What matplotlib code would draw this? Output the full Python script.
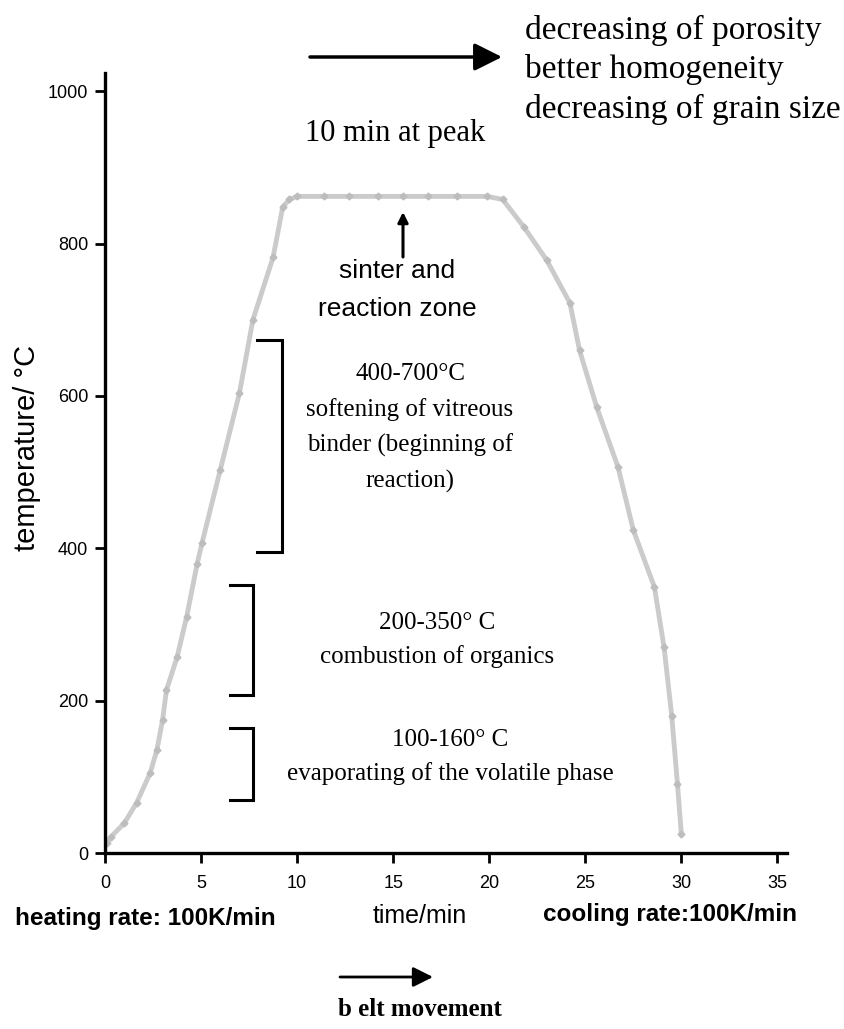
import matplotlib.pyplot as plt
from matplotlib.patches import FancyArrowPatch

# firing profile
time_min = [0.1, 0.3, 1.0, 1.65, 2.35, 2.7, 3.0, 3.2, 3.75, 4.25, 4.8, 5.05, 6.0,
            7.0, 7.7, 8.75, 9.25, 9.6, 10.0, 11.4, 12.7, 14.2, 15.5, 16.8, 18.3,
            19.9, 20.7, 21.8, 23.0, 24.2, 24.7, 25.6, 26.7, 27.5, 28.6, 29.1,
            29.5, 29.8, 30.0]
temp_c = [13, 21, 39, 66, 105, 135, 175, 214, 257, 310, 380, 407, 503,
          604, 700, 782, 848, 858, 862, 862, 862, 862, 862, 862, 862,
          862, 858, 822, 778, 722, 660, 585, 507, 424, 349, 270,
          180, 90, 25]

x_ticks = [0, 5, 10, 15, 20, 25, 30, 35]
y_ticks = [0, 200, 400, 600, 800, 1000]

# brackets: (x_left, x_right, T_bottom, T_top)
brackets = [(7.9, 9.2, 395, 673), (6.5, 7.7, 207, 352), (6.5, 7.7, 70, 164)]

W, H = 844, 1029
fig = plt.figure(figsize=(W / 100, H / 100), dpi=100)
ax = fig.add_axes([105 / W, 176 / H, 682 / W, 780 / H])

def px(x, y):
    return (x / W, 1 - y / H)

ax.plot(time_min, temp_c, color='#cbcbcb', lw=3.5, marker='D', ms=3.5,
        mfc='#bdbdbd', mec='#bdbdbd', solid_joinstyle='round')

ax.set_xlim(0, 35.5)
ax.set_ylim(0, 1024)
ax.set_xticks(x_ticks)
ax.set_yticks(y_ticks)
for s in ['top', 'right']:
    ax.spines[s].set_visible(False)
for s in ['left', 'bottom']:
    ax.spines[s].set_linewidth(2.4)
ax.tick_params(direction='out', length=7, width=2, labelsize=13)
ax.tick_params(axis='x', pad=9)
ax.tick_params(axis='y', pad=5)
for lab in ax.get_xticklabels() + ax.get_yticklabels():
    lab.set_family('Liberation Sans')

for x0, x1, b, t in brackets:
    ax.plot([x0, x1, x1, x0], [t, t, b, b], color='black', lw=2.2,
            solid_joinstyle='miter')

serif = 'Liberation Serif'
sans = 'Liberation Sans'

fig.text(*px(27, 448), 'temperature/ °C', rotation=90, ha='center', va='center',
         fontsize=21, family=sans)

fig.text(*px(15, 918), 'heating rate: 100K/min', ha='left', va='center',
         fontsize=17.5, fontweight='bold', family=sans)
fig.text(*px(420, 916), 'time/min', ha='center', va='center',
         fontsize=18, family=sans)
fig.text(*px(797, 915), 'cooling rate:100K/min', ha='right', va='center',
         fontsize=17.5, fontweight='bold', family=sans)
fig.text(*px(420, 1010), 'b elt movement', ha='center', va='center',
         fontsize=18, fontweight='bold', family=serif)

fig.text(*px(395, 133), '10 min at peak', ha='center', va='center',
         fontsize=22, family=serif)
fig.text(*px(525, 70), 'decreasing of porosity\nbetter homogeneity\ndecreasing of grain size',
         ha='left', va='center', fontsize=24, family=serif, linespacing=1.36)

fig.text(*px(397, 290), 'sinter and\nreaction zone', ha='center', va='center',
         fontsize=19, family=sans, linespacing=1.75)

fig.text(*px(410, 428), '400-700°C\nsoftening of vitreous\nbinder (beginning of\nreaction)',
         ha='center', va='center', fontsize=18, family=serif, linespacing=1.72)
fig.text(*px(437, 640), '200-350° C\ncombustion of organics',
         ha='center', va='center', fontsize=18, family=serif, linespacing=1.6)
fig.text(*px(450, 757), '100-160° C\nevaporating of the volatile phase',
         ha='center', va='center', fontsize=18, family=serif, linespacing=1.6)

arrows = [((310, 57), (502, 57), 42, 2.5),
          ((340, 977), (433, 977), 30, 2.0),
          ((403, 257), (403, 212), 15, 2.2)]
for (a, b, ms, lw) in arrows:
    fig.patches.append(FancyArrowPatch(px(*a), px(*b), transform=fig.transFigure,
                                       arrowstyle='-|>', mutation_scale=ms,
                                       color='black', lw=lw, shrinkA=0, shrinkB=0))

fig.savefig('out.png', dpi=100)
